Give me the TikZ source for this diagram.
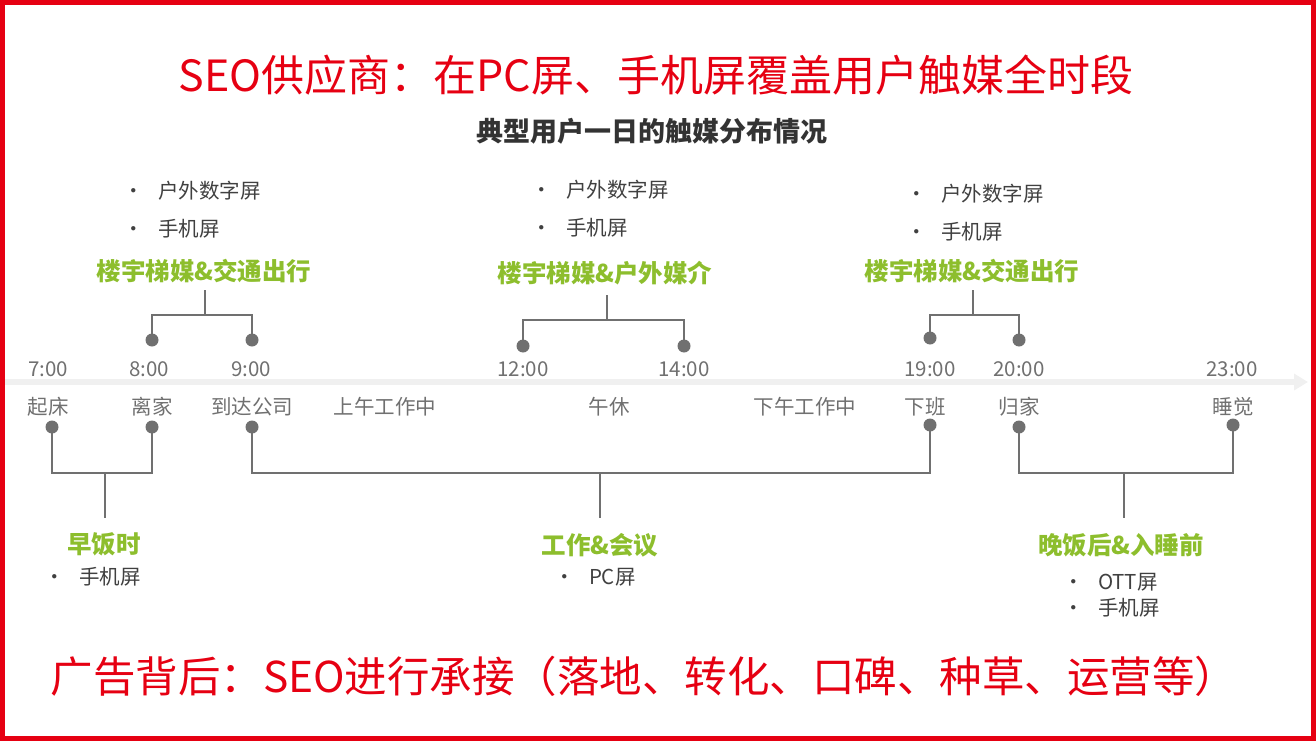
\documentclass[tikz,border=0pt]{standalone}
\usepackage{fontspec}
\setmainfont{Noto Sans CJK SC}
\usetikzlibrary{arrows.meta}
\definecolor{gr}{HTML}{707070}
\definecolor{lg}{HTML}{8DBE2D}
\definecolor{rd}{HTML}{E60012}
\begin{document}
\begin{tikzpicture}[x=1pt,y=-1pt,
  dot/.style={circle,fill=gr,inner sep=0pt,minimum size=13pt},
  br/.style={draw=gr,line width=2pt},
  tm/.style={text=gr,font=\fontsize{20.5}{20.5}\selectfont},
  gt/.style={text=lg,font=\fontsize{24.5}{24.5}\selectfont\bfseries},
  bl/.style={text=black!75,font=\fontsize{20.5}{20.5}\selectfont,anchor=west}]
\useasboundingbox (0,0) rectangle (1316,741);
\draw[rd,line width=5pt] (2.5,2.5) rectangle (1313.5,738.5);
\node[text=rd,font=\fontsize{43}{43}\selectfont] (t1) at (656,75) {SEO供应商：在PC屏、手机屏覆盖用户触媒全时段};
\node[text=black!80,font=\fontsize{27}{27}\selectfont\bfseries] (t2) at (652,131) {典型用户一日的触媒分布情况};
\node[text=rd,font=\fontsize{42.5}{42.5}\selectfont] (t3) at (644,676) {广告背后：SEO进行承接（落地、转化、口碑、种草、运营等）};
% timeline
\coordinate (ls) at (5,382); \coordinate (le) at (1308,382);
\draw[black!6,line width=6pt,-{Triangle[length=14pt,width=16pt]}] (ls) -- (le);
% times
\foreach \x/\t in {48/7:00,149/8:00,251/9:00,523/12:00,684/14:00,930/19:00,1019/20:00,1232/23:00}
  \node[tm] (tm\x) at (\x,369) {\t};
\foreach \x/\t in {48/起床,152/离家,252/到达公司,385/上午工作中,609/午休,805/下午工作中,925/下班,1019/归家,1233/睡觉}
  \node[tm] (lb\x) at (\x,407) {\t};
% upper dots
\node[dot] (u1) at (152,340) {}; \node[dot] (u2) at (252,340) {};
\node[dot] (u3) at (523,346) {}; \node[dot] (u4) at (684,346) {};
\node[dot] (u5) at (930,338) {}; \node[dot] (u6) at (1019,340) {};
\coordinate (ua) at (205,290); \coordinate (ub) at (607,295); \coordinate (uc) at (973,290);
\draw[br] (u1.center) |- (205,315) -| (u2.center); \draw[br] (205,315) -- (ua);
\draw[br] (u3.center) |- (607,320) -| (u4.center); \draw[br] (607,320) -- (ub);
\draw[br] (u5.center) |- (973,315) -| (u6.center); \draw[br] (973,315) -- (uc);
% lower dots
\node[dot] (d1) at (52,427) {}; \node[dot] (d2) at (152,427) {};
\node[dot] (d3) at (252,427) {}; \node[dot] (d4) at (930,425) {};
\node[dot] (d5) at (1019,427) {}; \node[dot] (d6) at (1233,425) {};
\coordinate (da) at (105,518); \coordinate (db) at (600,518); \coordinate (dc) at (1124,518);
\draw[br] (d1.center) |- (105,473) -| (d2.center); \draw[br] (105,473) -- (da);
\draw[br] (d3.center) |- (600,473) -| (d4.center); \draw[br] (600,473) -- (db);
\draw[br] (d5.center) |- (1124,473) -| (d6.center); \draw[br] (1124,473) -- (dc);
% green labels
\node[gt] (g1) at (204,271) {楼宇梯媒\&交通出行};
\node[gt] (g2) at (605,273) {楼宇梯媒\&户外媒介};
\node[gt] (g3) at (972,271) {楼宇梯媒\&交通出行};
\node[gt] (g4) at (104,544) {早饭时};
\node[gt] (g5) at (600,545) {工作\&会议};
\node[gt] (g6) at (1121,545) {晚饭后\&入睡前};
% bullets
\node[bl] (b1) at (120,191) {•\hspace{14pt}户外数字屏};
\node[bl] (b2) at (120,229) {•\hspace{14pt}手机屏};
\node[bl] (b3) at (528,190) {•\hspace{14pt}户外数字屏};
\node[bl] (b4) at (528,228) {•\hspace{14pt}手机屏};
\node[bl] (b5) at (903,194) {•\hspace{14pt}户外数字屏};
\node[bl] (b6) at (903,232) {•\hspace{14pt}手机屏};
\node[bl] (b7) at (41,577) {•\hspace{14pt}手机屏};
\node[bl] (b8) at (551,577) {•\hspace{14pt}PC屏};
\node[bl] (b9) at (1060,582) {•\hspace{14pt}OTT屏};
\node[bl] (b10) at (1060,608) {•\hspace{14pt}手机屏};
\end{tikzpicture}
\end{document}
